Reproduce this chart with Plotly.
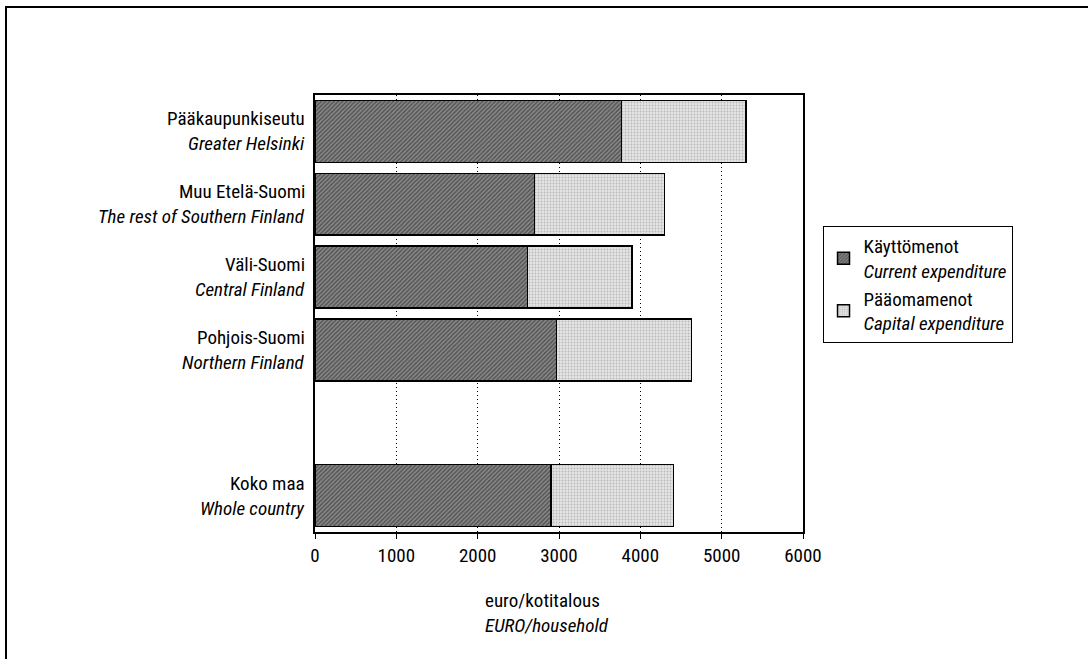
import plotly.graph_objects as go

# Region labels (Finnish / English) and values in euro per household
regions_fi = ["Pääkaupunkiseutu", "Muu Etelä-Suomi", "Väli-Suomi", "Pohjois-Suomi", " ", "Koko maa"]
regions_en = ["Greater Helsinki", "The rest of Southern Finland", "Central Finland", "Northern Finland", "", "Whole country"]
current_exp = [3770, 2700, 2610, 2970, None, 2900]
capital_exp = [1530, 1600, 1290, 1660, None, 1510]
x_ticks = [0, 1000, 2000, 3000, 4000, 5000, 6000]

FONT = "Liberation Sans Narrow, Arial Narrow, Roboto Condensed, Liberation Sans, sans-serif"
FS = 19

fig = go.Figure()
fig.add_trace(go.Bar(
    y=regions_fi, x=current_exp, orientation="h",
    name="Käyttömenot<br><i>Current expenditure</i>",
    marker=dict(color="#5e5e5e", line=dict(color="black", width=1.5),
                pattern=dict(shape="/", fgcolor="#1e1e1e", bgcolor="#8a8a8a", size=3, solidity=0.5)),
    width=0.85,
))
fig.add_trace(go.Bar(
    y=regions_fi, x=capital_exp, orientation="h",
    name="Pääomamenot<br><i>Capital expenditure</i>",
    marker=dict(color="#d8d8d8", line=dict(color="black", width=1.5),
                pattern=dict(shape=".", fgcolor="#8c8c8c", bgcolor="#e4e4e4", size=3, solidity=0.3)),
    width=0.85,
))

fig.update_layout(
    width=1088, height=659,
    barmode="stack",
    paper_bgcolor="white", plot_bgcolor="white",
    margin=dict(l=315, r=285, t=95, b=127),
    font=dict(family=FONT, size=FS, color="black"),
    showlegend=True,
    legend=dict(x=1.04, y=0.70, xanchor="left", yanchor="top",
                bordercolor="black", borderwidth=1, bgcolor="white",
                traceorder="normal", tracegroupgap=0,
                font=dict(family=FONT, size=FS)),
    xaxis=dict(range=[0, 6000], tickvals=x_ticks, ticktext=[str(v) for v in x_ticks],
               showgrid=True, gridcolor="black", griddash="1px,3px", gridwidth=1,
               showline=True, linecolor="black", linewidth=2, mirror=True,
               ticks="outside", ticklen=5, tickcolor="black", zeroline=False,
               tickfont=dict(family=FONT, size=FS)),
    yaxis=dict(categoryorder="array", categoryarray=regions_fi, autorange="reversed",
               showline=True, linecolor="black", linewidth=2, mirror=True,
               ticks="", showgrid=False, showticklabels=False),
    bargap=0.15,
)

# Two-line category labels (Finnish above, English in italics below)
for fi, en in zip(regions_fi, regions_en):
    if not en:
        continue
    fig.add_annotation(x=0, xref="paper", y=fi, yref="y", text=fi, showarrow=False,
                       xanchor="right", yanchor="bottom", xshift=-9, yshift=0,
                       borderpad=0, font=dict(family=FONT, size=FS))
    fig.add_annotation(x=0, xref="paper", y=fi, yref="y", text=f"<i>{en}</i>", showarrow=False,
                       xanchor="right", yanchor="top", xshift=-9, yshift=0,
                       borderpad=0, font=dict(family=FONT, size=FS))

# Axis title below the value axis
fig.add_annotation(x=0.344, xref="paper", y=-0.185, yref="paper",
                   text="euro/kotitalous<br><i>EURO/household</i>", showarrow=False,
                   xanchor="left", yanchor="middle", align="left",
                   font=dict(family=FONT, size=FS))

# Outer frame around the figure
fig.add_shape(type="rect", xref="paper", yref="paper",
              x0=-315 / 488 + 6 / 488, x1=1.0 + 300 / 488,
              y0=-140 / 437, y1=1.0 + 88 / 437,
              line=dict(color="black", width=2), layer="below")

fig.write_html("out.html")
